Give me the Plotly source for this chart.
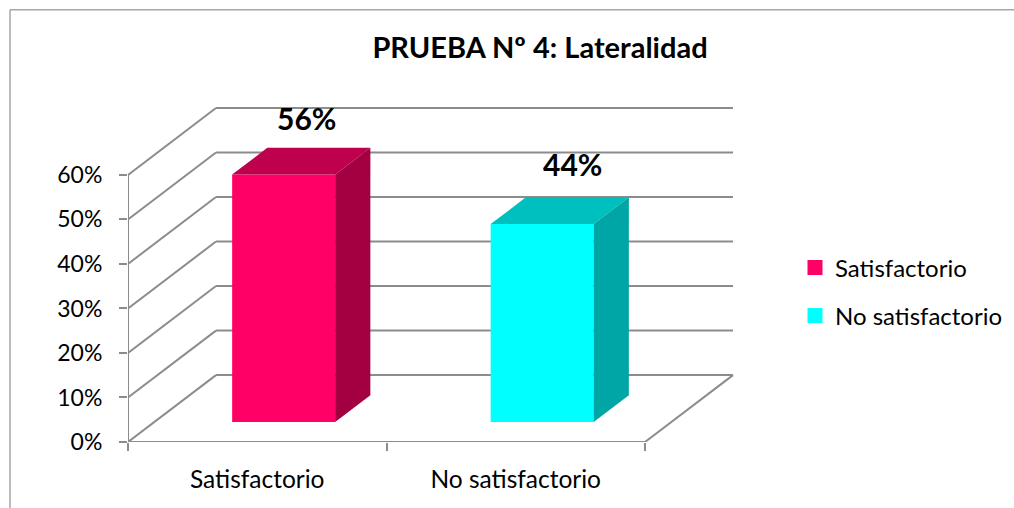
import plotly.graph_objects as go

# data
categories = ["Satisfactorio", "No satisfactorio"]
values = [55.56, 44.44]
bar_colors = ["#FF0066", "#00FFFF"]
top_colors = ["#BF004C", "#00BFBF"]
side_colors = ["#A30041", "#00A6A6"]
y_ticks = [0, 10, 20, 30, 40, 50, 60]
y_labels = ["0%", "10%", "20%", "30%", "40%", "50%", "60%"]

W, H = 1014, 508
# front plane of the fake 3d box, in pixels
left, right, bottom, y60 = 128, 645, 442, 174.5
depth_px_x, depth_px_y = 88, 67
pad = 3  # room so the back lines don't get clipped

px_x = (right - left) / len(categories)
px_y = (bottom - y60) / 60
depth_x = depth_px_x / px_x
depth_y = depth_px_y / px_y
bar_width = 103 / px_x
# bars sit between these fractions of the depth
near, far = 0.30, 0.70

back_x = len(categories) + depth_x
back_y = 60 + depth_y
plot_right = right + depth_px_x + pad
plot_top = y60 - depth_px_y - pad
x_max = back_x + pad / px_x
y_max = back_y + pad / px_y


def paper_x(px):
    return (px - left) / (plot_right - left)


def paper_y(px):
    return (bottom - px) / (bottom - plot_top)


fig = go.Figure()

# walls and floor
line_color = "#8C8C8C"
grid = dict(color=line_color, width=2)
for t in y_ticks:
    fig.add_shape(type="line", x0=0, y0=t, x1=depth_x, y1=t + depth_y, line=grid, layer="below")
    fig.add_shape(type="line", x0=depth_x, y0=t + depth_y, x1=back_x, y1=t + depth_y, line=grid, layer="below")
fig.add_shape(type="line", x0=len(categories), y0=0, x1=back_x, y1=depth_y, line=grid, layer="below")

# the two axis lines, not clipped by the plot area
fig.add_trace(go.Scatter(x=[0, 0, len(categories)], y=[60, 0, 0], mode="lines", line=grid,
                         cliponaxis=False, showlegend=False, hoverinfo="skip"))

for i, cat in enumerate(categories):
    v = values[i]
    x0 = i + 0.5 + near * depth_x - bar_width / 2
    x1 = x0 + bar_width
    base = near * depth_y
    top = base + v
    dx = (far - near) * depth_x
    dy = (far - near) * depth_y

    fig.add_trace(go.Bar(x=[(x0 + x1) / 2], y=[v], base=[base], width=[bar_width],
                         marker=dict(color=bar_colors[i], line=dict(width=0)),
                         showlegend=False, hoverinfo="skip"))
    # top face
    fig.add_trace(go.Scatter(x=[x0, x0 + dx, x1 + dx, x1, x0], y=[top, top + dy, top + dy, top, top],
                             fill="toself", fillcolor=top_colors[i], mode="none",
                             showlegend=False, hoverinfo="skip"))
    # side face
    fig.add_trace(go.Scatter(x=[x1, x1 + dx, x1 + dx, x1, x1], y=[base, base + dy, top + dy, top, base],
                             fill="toself", fillcolor=side_colors[i], mode="none",
                             showlegend=False, hoverinfo="skip"))
    # only there for the legend
    fig.add_trace(go.Scatter(x=[None], y=[None], mode="markers", name=cat, legendgroup=cat,
                             marker=dict(symbol="square", size=15, color=bar_colors[i])))

    fig.add_annotation(x=(x0 + x1) / 2 + dx / 2, y=top + dy, text=f"<b>{v:.0f}%</b>", showarrow=False,
                       font=dict(size=30, color="#000000", family="Lato"),
                       xshift=[5, 13][i], yshift=[30, 33][i])

# outer frame, only top and left show in the picture
frame = dict(color="#A6A6A6", width=1.5)
fig.add_shape(type="line", xref="paper", yref="paper", x0=paper_x(10), x1=paper_x(W),
              y0=paper_y(9), y1=paper_y(9), line=frame)
fig.add_shape(type="line", xref="paper", yref="paper", x0=paper_x(10), x1=paper_x(10),
              y0=paper_y(9), y1=paper_y(H), line=frame)

fig.update_layout(
    width=W,
    height=H,
    margin=dict(l=left, r=W - plot_right, t=plot_top, b=H - bottom, autoexpand=False),
    paper_bgcolor="white",
    plot_bgcolor="white",
    font=dict(family="Lato", size=23, color="#000000"),
    barmode="overlay",
    title=dict(text="<b>PRUEBA Nº 4: Lateralidad</b>", x=540 / W, xanchor="center",
               y=1 - 48 / H, yanchor="middle", font=dict(size=29, family="Lato", color="#000000")),
    legend=dict(x=paper_x(795), y=paper_y(245), yanchor="top", itemwidth=30, font=dict(size=24),
                tracegroupgap=14, traceorder="grouped"),
    xaxis=dict(range=[0, x_max], tickvals=[i + 0.5 for i in range(len(categories))], ticktext=categories,
               ticks="", showgrid=False, zeroline=False, showline=False, ticklabelstandoff=20,
               tickfont=dict(size=24.5),
               minor=dict(tickvals=list(range(len(categories) + 1)), ticks="outside", ticklen=8,
                          tickcolor=line_color, tickwidth=2, showgrid=False)),
    yaxis=dict(range=[0, y_max], tickvals=y_ticks, ticktext=y_labels, ticks="outside", ticklen=8,
               tickcolor=line_color, tickwidth=2, showgrid=False, zeroline=False, showline=False,
               ticklabelstandoff=12),
)

fig.write_html("out.html", config=dict(displayModeBar=False), post_script="document.body.style.margin='0';")
